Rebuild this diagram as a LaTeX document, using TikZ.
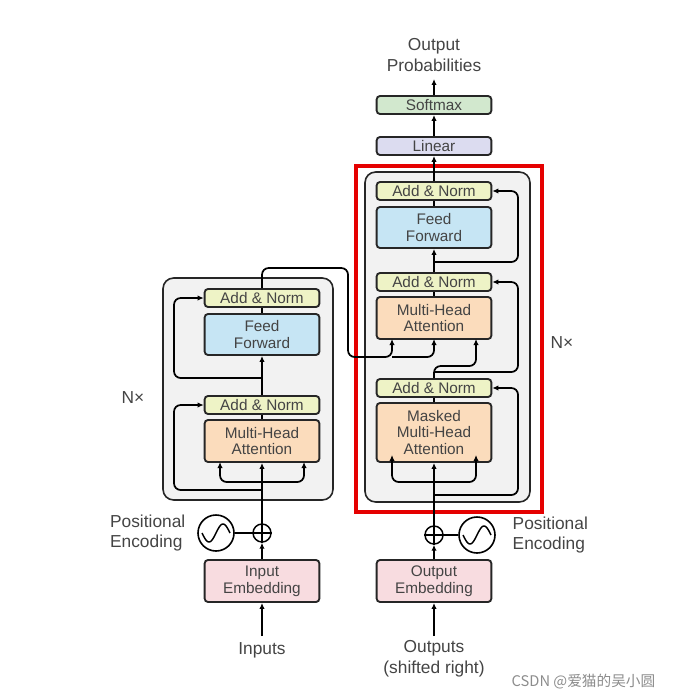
\documentclass[tikz,border=0pt]{standalone}
\usepackage{fontspec}
\setmainfont{Liberation Sans}
\newfontfamily\cjk{Noto Sans CJK SC}
\usetikzlibrary{arrows.meta,calc}
\definecolor{anC}{HTML}{EEF3C6}
\definecolor{ffC}{HTML}{C6E5F4}
\definecolor{mhC}{HTML}{FBDCBC}
\definecolor{emC}{HTML}{F8DCE0}
\definecolor{liC}{HTML}{DCDCF0}
\definecolor{smC}{HTML}{D2E8CE}
\definecolor{bgC}{HTML}{F2F2F2}
\definecolor{txC}{HTML}{444444}
\tikzset{
 blk/.style={draw=black!85,line width=1.4pt,rounded corners=2.5pt,minimum width=86pt,inner sep=0pt,align=center,text=txC,font=\fontsize{11.5}{12.5}\selectfont},
 an/.style={blk,fill=anC,minimum height=13.5pt},
 ff/.style={blk,fill=ffC,minimum height=30.75pt},
 mh/.style={blk,fill=mhC,minimum height=31.5pt},
 em/.style={blk,fill=emC,minimum height=31.5pt},
 arr/.style={-{Latex[length=4.5pt,width=4pt]},line width=1.3pt,rounded corners=5pt},
 ln/.style={line width=1.3pt,rounded corners=5pt},
 lbl/.style={text=txC,font=\fontsize{13}{15.5}\selectfont,align=center},
 bg/.style={draw=black!85,line width=1.2pt,fill=bgC,rounded corners=8pt}
}
\begin{document}
\begin{tikzpicture}[x=0.75pt,y=-0.75pt]
\useasboundingbox (0,0) rectangle (674,699);
% backgrounds
\draw[bg] (163,278) rectangle (333,500);
\draw[bg] (365,172) rectangle (530,502);
\draw[red!90!black,line width=3pt] (356,166) rectangle (542,512);
% encoder nodes
\node[an] (an2) at (262,298) {Add \& Norm};
\node[ff] (ff) at (262,334.5) {Feed\\Forward};
\node[an] (an1) at (262,405) {Add \& Norm};
\node[mh] (mha) at (262,441) {Multi-Head\\Attention};
\node[em] (emb) at (262,581) {Input\\Embedding};
\node[draw,circle,line width=1.1pt,minimum size=13.5pt,inner sep=0pt] (plus) at (262,533) {};
\draw[line width=1.1pt] (plus.north)--(plus.south) (plus.west)--(plus.east);
\node[draw,circle,line width=1.2pt,minimum size=27pt,inner sep=0pt] (pe) at (216,533) {};
\draw[line width=1.1pt] plot[domain=-14:14,samples=30,smooth] ({216+\x},{533-9*sin(\x*180/14)});
\node[lbl,anchor=east,align=left] (pel) at (190,533) {Positional\\Encoding};
\node[lbl] (inp) at (262,650) {Inputs};
\node[lbl] (nx1) at (133,398) {N×};
% decoder nodes
\node[an] (dan3) at (434,191) {Add \& Norm};
\node[ff] (dff) at (434,227.5) {Feed\\Forward};
\node[an] (dan2) at (434,282) {Add \& Norm};
\node[mh] (dmha) at (434,318) {Multi-Head\\Attention};
\node[an] (dan1) at (434,388) {Add \& Norm};
\node[blk,fill=mhC,minimum height=44.25pt] (dmm) at (434,432.5) {Masked\\Multi-Head\\Attention};
\node[em] (demb) at (434,581) {Output\\Embedding};
\node[blk,fill=liC,minimum height=13.5pt] (lin) at (434,146) {Linear};
\node[blk,fill=smC,minimum height=13.5pt] (soft) at (434,105) {Softmax};
\node[lbl] (outp) at (434,55) {Output\\Probabilities};
\node[draw,circle,line width=1.1pt,minimum size=13.5pt,inner sep=0pt] (dplus) at (434,535) {};
\draw[line width=1.1pt] (dplus.north)--(dplus.south) (dplus.west)--(dplus.east);
\node[draw,circle,line width=1.2pt,minimum size=27pt,inner sep=0pt] (dpe) at (477,535) {};
\draw[line width=1.1pt] plot[domain=-14:14,samples=30,smooth] ({477+\x},{535-9*sin(\x*180/14)});
\node[lbl,anchor=west,align=left] (dpel) at (508,535) {Positional\\Encoding};
\node[lbl] (outs) at (434,659) {Outputs\\(shifted right)};
\node[lbl] (nx2) at (562,343) {N×};
\node[text=black!45,font=\cjk\fontsize{11}{13}\selectfont,anchor=east] (wm) at (660,682) {CSDN @爱猫的吴小圆};
% encoder connectors
\draw[arr] (262,636) -- (emb.south);
\draw[arr] (emb.north) -- (plus.south);
\draw[ln] (pe.east) -- (plus.west);
\draw[arr] (plus.north) -- (mha.south);
\draw[arr] (262,490) -- (174,490) -- (174,405) -- (an1.west);
\draw[arr] (262,482) -- (220,482) -- (220,462);
\draw[arr] (262,482) -- (304,482) -- (304,462);
\draw[ln] (mha.north) -- (an1.south);
\draw[arr] (an1.north) -- (ff.south);
\draw[arr] (262,378) -- (174,378) -- (174,298) -- (an2.west);
\draw[ln] (ff.north) -- (an2.south);
\draw[arr] (an2.north) -- (262,268) -- (348,268) -- (348,357) -- (392,357) -- (392,339);
\draw[arr] (392,357) -- (434,357) -- (434,339);
% decoder connectors
\draw[arr] (434,636) -- (demb.south);
\draw[arr] (demb.north) -- (dplus.south);
\draw[ln] (dpe.west) -- (dplus.east);
\draw[arr] (dplus.north) -- (dmm.south);
\draw[arr] (434,495) -- (518,495) -- (518,388) -- (dan1.east);
\draw[arr] (434,482) -- (392,482) -- (392,455);
\draw[arr] (434,482) -- (476,482) -- (476,455);
\draw[ln] (dmm.north) -- (dan1.south);
\draw[arr] (dan1.north) -- (434,366) -- (476,366) -- (476,339);
\draw[arr] (434,372) -- (518,372) -- (518,282) -- (dan2.east);
\draw[ln] (dmha.north) -- (dan2.south);
\draw[arr] (dan2.north) -- (dff.south);
\draw[arr] (434,262) -- (518,262) -- (518,191) -- (dan3.east);
\draw[ln] (dff.north) -- (dan3.south);
\draw[arr] (dan3.north) -- (lin.south);
\draw[arr] (lin.north) -- (soft.south);
\draw[arr] (soft.north) -- (434,79);
\end{tikzpicture}
\end{document}
